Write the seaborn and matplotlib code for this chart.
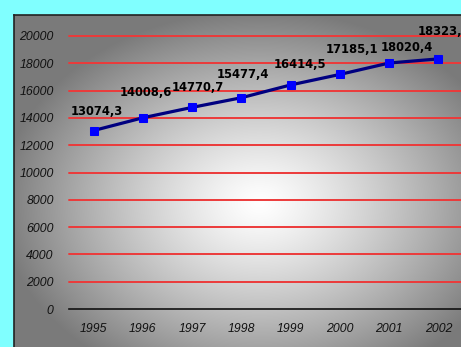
import numpy as np
import pandas as pd
import matplotlib
matplotlib.use("Agg")
import matplotlib.pyplot as plt
from matplotlib import font_manager
from matplotlib.font_manager import FontProperties
import seaborn as sns

# Series
years = ["1995", "1996", "1997", "1998", "1999", "2000", "2001", "2002"]
values = [13074.3, 14008.6, 14770.7, 15477.4, 16414.5, 17185.1, 18020.4, 18323.1]
label_texts = ["13074,3", "14008,6", "14770,7", "15477,4", "16414,5", "17185,1", "18020,4", "18323,1"]
y_ticks = list(range(0, 20001, 2000))

# Label offsets in points (dx, dy) above each marker
label_dx = [2, 2, 4, 1, 7, 9, 13, 4]
label_dy = [14, 18, 14, 17, 15, 18, 11, 20]

sns.set_theme(style="white")
available = {f.name for f in font_manager.fontManager.ttflist}
tick_family = "Liberation Sans" if "Liberation Sans" in available else "DejaVu Sans"
plt.rcParams["font.family"] = [tick_family, "DejaVu Sans"]


def find_narrow_bold():
    files = [f.fname for f in font_manager.fontManager.ttflist]
    prefs = ["LiberationSansNarrow-Bold.", "DejaVuSansCondensed-Bold.",
             "RobotoCondensed-Bold", "OpenSans_Condensed-Bold", "OpenSansCondensed-Bold"]
    for p in prefs:
        for fn in files:
            if p in fn.split("/")[-1]:
                return fn
    for fn in files:
        base = fn.split("/")[-1]
        if ("Condensed" in base or "Narrow" in base) and "Bold" in base and "Oblique" not in base and "Italic" not in base:
            return fn
    return None


narrow_file = find_narrow_bold()
if narrow_file:
    label_font = FontProperties(fname=narrow_file, size=9.3)
else:
    label_font = FontProperties(family="DejaVu Sans", weight="bold", size=8.5)

W, H = 461, 347
fig = plt.figure(figsize=(W / 100, H / 100), dpi=100)
fig.patch.set_facecolor("#80ffff")

# Gray panel with a soft elliptical highlight
px0, py0 = 14, 15
bg = fig.add_axes([px0 / W, 0, 1 - px0 / W, 1 - py0 / H])
pw, ph = W - px0, H - py0
xx, yy = np.meshgrid(np.arange(pw), np.arange(ph))
cx, cy = 245, 188
r = np.sqrt(((xx - cx) / 235.0) ** 2 + ((yy - cy) / 175.0) ** 2)
g = np.clip(1.0 - 0.46 * np.clip(r, 0, 1.1) ** 1.25, 0, 1)
img = np.dstack([g, g, g])
bg.imshow(img, aspect="auto", interpolation="bilinear", extent=(0, pw, ph, 0))
bg.set_xlim(0, pw)
bg.set_ylim(ph, 0)
bg.set_xticks([])
bg.set_yticks([])
for side in ["right", "bottom"]:
    bg.spines[side].set_visible(False)
for side in ["left", "top"]:
    bg.spines[side].set_color("#222222")
    bg.spines[side].set_linewidth(1.2)

# Plot area
ax_l, ax_r, ax_t, ax_b = 69, 463, 36, 309
ax = fig.add_axes([ax_l / W, (H - ax_b) / H, (ax_r - ax_l) / W, (ax_b - ax_t) / H])
ax.patch.set_alpha(0)

df = pd.DataFrame({"year": years, "value": values})
df["pos"] = np.arange(len(years))

for yv in y_ticks[1:]:
    ax.axhline(yv, color="#ec3a3a", lw=1.4, zorder=1, clip_on=False)

sns.lineplot(data=df, x="pos", y="value", ax=ax, color="#000080", lw=2.3,
             marker="s", markersize=5.8, markerfacecolor="#0000ff",
             markeredgecolor="#0000ff", zorder=3, clip_on=False)

ax.set_xlim(-0.5, len(years) - 0.5)
ax.set_ylim(0, 20000)
ax.set_xlabel("")
ax.set_ylabel("")

ax.set_xticks(df["pos"])
ax.set_xticklabels(years, fontsize=8.8, style="italic", color="#111111")
ax.set_xticks(np.arange(-0.5, len(years), 1.0), minor=True)
ax.tick_params(axis="x", which="major", length=0, pad=10)
ax.tick_params(axis="x", which="minor", length=4, width=1, color="#111111", direction="out")
ax.set_yticks(y_ticks)
ax.set_yticklabels([str(v) for v in y_ticks], fontsize=8.8, style="italic", color="#111111")
ax.tick_params(axis="y", length=0, pad=11)

for side in ["left", "right", "top"]:
    ax.spines[side].set_visible(False)
ax.spines["bottom"].set_color("#111111")
ax.spines["bottom"].set_linewidth(1.2)

for i, (v, t) in enumerate(zip(values, label_texts)):
    ax.annotate(t, (i, v), xytext=(label_dx[i], label_dy[i]), textcoords="offset points",
                ha="center", va="center", fontproperties=label_font, color="#000000",
                annotation_clip=False, zorder=4)

fig.savefig("out.png", dpi=100)
